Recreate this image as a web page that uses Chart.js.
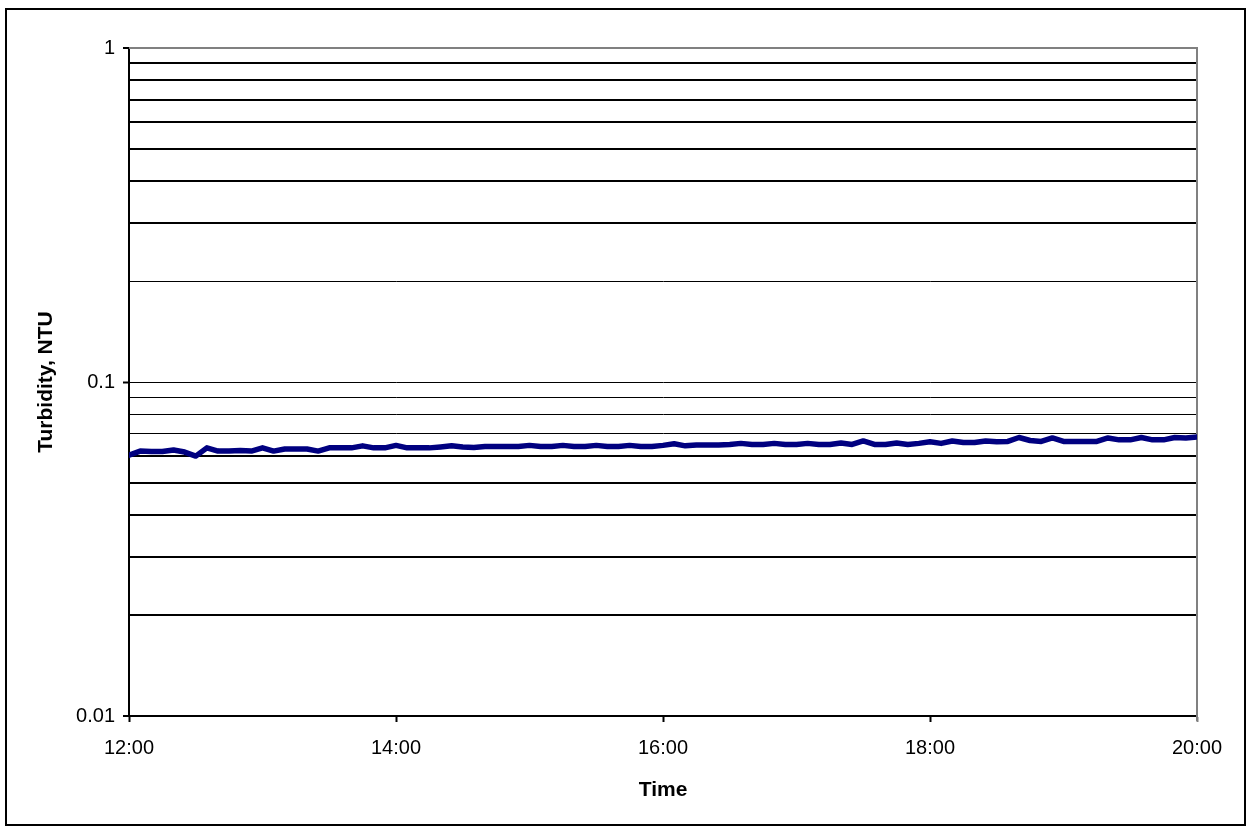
<!DOCTYPE html>
<html>
<head>
<meta charset="utf-8">
<script src="https://cdn.jsdelivr.net/npm/chart.js@4"></script>
<style>
  html, body { margin: 0; padding: 0; background: #fff; }
  #wrap { width: 1252px; height: 832px; }
</style>
</head>
<body>
<div id="wrap"><canvas id="chart" width="1252" height="832"></canvas></div>
<script>
// readings every 5 minutes, 12:00 - 20:00
const times = [
  '12:00','12:05','12:10','12:15','12:20','12:25','12:30','12:35','12:40','12:45','12:50','12:55',
  '13:00','13:05','13:10','13:15','13:20','13:25','13:30','13:35','13:40','13:45','13:50','13:55',
  '14:00','14:05','14:10','14:15','14:20','14:25','14:30','14:35','14:40','14:45','14:50','14:55',
  '15:00','15:05','15:10','15:15','15:20','15:25','15:30','15:35','15:40','15:45','15:50','15:55',
  '16:00','16:05','16:10','16:15','16:20','16:25','16:30','16:35','16:40','16:45','16:50','16:55',
  '17:00','17:05','17:10','17:15','17:20','17:25','17:30','17:35','17:40','17:45','17:50','17:55',
  '18:00','18:05','18:10','18:15','18:20','18:25','18:30','18:35','18:40','18:45','18:50','18:55',
  '19:00','19:05','19:10','19:15','19:20','19:25','19:30','19:35','19:40','19:45','19:50','19:55',
  '20:00'
];
const turbidity = [
  0.0604, 0.0621, 0.0619, 0.0619, 0.0626, 0.0617, 0.0600, 0.0635, 0.0621, 0.0621, 0.0624, 0.0621,
  0.0635, 0.0621, 0.0630, 0.0630, 0.0630, 0.0621, 0.0635, 0.0635, 0.0635, 0.0644, 0.0635, 0.0635,
  0.0646, 0.0635, 0.0635, 0.0635, 0.0639, 0.0644, 0.0639, 0.0637, 0.0641, 0.0641, 0.0641, 0.0641,
  0.0646, 0.0641, 0.0641, 0.0646, 0.0641, 0.0641, 0.0646, 0.0641, 0.0641, 0.0646, 0.0641, 0.0641,
  0.0646, 0.0653, 0.0644, 0.0648, 0.0648, 0.0648, 0.0650, 0.0655, 0.0650, 0.0650, 0.0655, 0.0650,
  0.0650, 0.0655, 0.0650, 0.0650, 0.0657, 0.0650, 0.0666, 0.0650, 0.0650, 0.0657, 0.0650, 0.0655,
  0.0662, 0.0655, 0.0666, 0.0659, 0.0659, 0.0666, 0.0662, 0.0664, 0.0682, 0.0668, 0.0664, 0.0680,
  0.0664, 0.0664, 0.0664, 0.0664, 0.0680, 0.0671, 0.0671, 0.0682, 0.0671, 0.0671, 0.0682, 0.0680,
  0.0684
];
const xTickLabels = ['12:00', '14:00', '16:00', '18:00', '20:00'];
const yMajor = [0.01, 0.1, 1];
const yGridValues = [
  0.01, 0.02, 0.03, 0.04, 0.05, 0.06, 0.07, 0.08, 0.09,
  0.1, 0.2, 0.3, 0.4, 0.5, 0.6, 0.7, 0.8, 0.9, 1
];
const thinLines = [0.2, 0.1, 0.09, 0.08, 0.07];

const FONT = 'Arial, "Liberation Sans", sans-serif';

function toMinutes(t) {
  const p = t.split(':');
  return parseInt(p[0]) * 60 + parseInt(p[1]);
}
function near(a, b) { return Math.abs(a - b) < b * 1e-6; }
function isMajor(v) { return yMajor.some(m => near(v, m)); }

const points = times.map((t, i) => ({ x: toMinutes(t), y: turbidity[i] }));

const framePlugin = {
  id: 'frame',
  beforeDraw(chart) {
    const ctx = chart.ctx;
    ctx.save();
    ctx.fillStyle = '#fff';
    ctx.fillRect(0, 0, chart.width, chart.height);
    ctx.restore();
  },
  beforeDatasetsDraw(chart) {
    const { ctx, chartArea: a } = chart;
    ctx.save();
    ctx.strokeStyle = '#808080';
    ctx.lineWidth = 2;
    ctx.beginPath();
    ctx.moveTo(a.left, a.top);
    ctx.lineTo(a.right, a.top);
    ctx.lineTo(a.right, a.bottom + 5);
    ctx.stroke();
    ctx.restore();
  },
  afterDraw(chart) {
    const ctx = chart.ctx;
    ctx.save();
    ctx.strokeStyle = '#000';
    ctx.lineWidth = 2;
    ctx.strokeRect(6, 9, 1239, 816);
    ctx.restore();
  }
};

new Chart(document.getElementById('chart').getContext('2d'), {
  type: 'line',
  data: {
    datasets: [{
      data: points,
      borderColor: '#000080',
      borderWidth: 5.5,
      borderJoinStyle: 'round',
      borderCapStyle: 'round',
      pointRadius: 0,
      tension: 0,
      fill: false
    }]
  },
  options: {
    responsive: false,
    animation: false,
    layout: { padding: { left: 0, top: 48, right: 55, bottom: 0 } },
    plugins: {
      legend: { display: false },
      tooltip: { enabled: false }
    },
    scales: {
      x: {
        type: 'linear',
        min: toMinutes(xTickLabels[0]),
        max: toMinutes(xTickLabels[xTickLabels.length - 1]),
        afterBuildTicks: s => { s.ticks = xTickLabels.map(t => ({ value: toMinutes(t) })); },
        afterFit: s => { s.height = 116; },
        ticks: {
          color: '#000',
          font: { family: FONT, size: 20 },
          padding: 14,
          maxRotation: 0,
          callback: v => xTickLabels.find(t => toMinutes(t) === v) || ''
        },
        grid: {
          drawOnChartArea: false,
          drawTicks: true,
          tickLength: 6,
          tickWidth: 2,
          tickColor: c => (c.index === xTickLabels.length - 1 ? '#808080' : '#000')
        },
        border: { display: true, color: '#000', width: 2 },
        title: {
          display: true,
          text: 'Time',
          color: '#000',
          font: { family: FONT, size: 21, weight: 'bold' },
          padding: { top: 0, bottom: 29 }
        }
      },
      y: {
        type: 'logarithmic',
        min: 0.01,
        max: 1,
        afterBuildTicks: s => { s.ticks = yGridValues.map(v => ({ value: v })); },
        afterFit: s => { s.width = 129; },
        ticks: {
          autoSkip: false,
          color: '#000',
          font: { family: FONT, size: 20 },
          padding: 8,
          callback: v => (isMajor(v) ? String(v) : '')
        },
        grid: {
          drawTicks: true,
          tickLength: 6,
          color: c => (c.tick && near(c.tick.value, 1) ? '#808080' : '#000'),
          lineWidth: c => (c.tick && thinLines.some(t => near(c.tick.value, t)) ? 1 : 2),
          tickColor: c => (c.tick && isMajor(c.tick.value) ? '#000' : 'rgba(0,0,0,0)'),
          tickWidth: 2
        },
        border: { display: true, color: '#000', width: 2 },
        title: {
          display: true,
          text: 'Turbidity, NTU',
          color: '#000',
          font: { family: FONT, size: 21, weight: 'bold' },
          padding: { top: 34, bottom: 0 }
        }
      }
    }
  },
  plugins: [framePlugin]
});
</script>
</body>
</html>
